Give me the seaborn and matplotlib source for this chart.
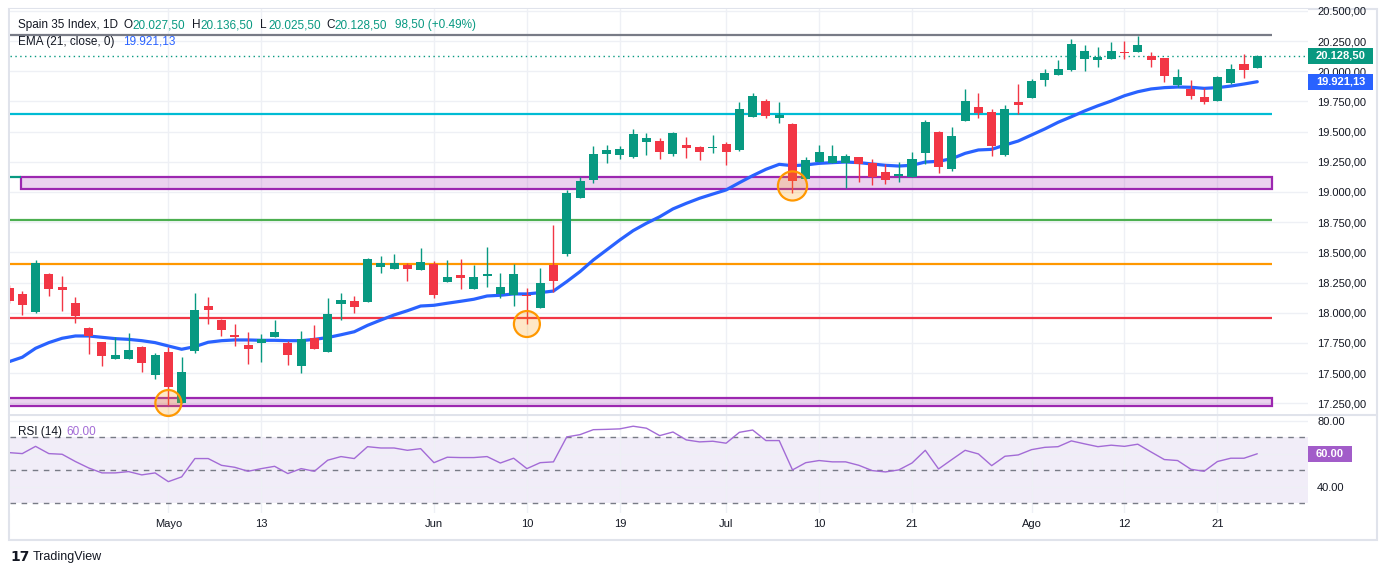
import numpy as np
import pandas as pd
import seaborn as sns
import matplotlib.pyplot as plt
from matplotlib.patches import Rectangle
from matplotlib.lines import Line2D
from matplotlib.transforms import blended_transform_factory

# daily bars, 15 Apr - 26 Aug (1 May closed)
opens = [18203, 18156, 18009, 18321, 18214, 18084, 17874, 17758, 17620, 17620,
         17717, 17487, 17676, 17256, 17686, 18056, 17940, 17814, 17733, 17753,
         17802, 17753, 17562, 17791, 17678, 18073, 18098, 18092, 18383, 18366,
         18395, 18354, 18404, 18258, 18313, 18200, 18307, 18158, 18150, 18150,
         18042, 18395, 18487, 18953, 19102, 19317, 19309, 19292, 19414, 19422,
         19317, 19389, 19372, 19367, 19400, 19348, 19621, 19753, 19615, 19565,
         19110, 19251, 19240, 19240, 19290, 19240, 19163, 19133, 19127, 19325,
         19497, 19188, 19590, 19704, 19660, 19309, 19745, 19781, 19930, 19969,
         20012, 20103, 20095, 20103, 20162, 20162, 20126, 20109, 19886, 19853,
         19786, 19756, 19902, 20060, 20027.5]
highs = [18230, 18180, 18437, 18332, 18305, 18131, 17885, 17760, 17797, 17833,
         17725, 17665, 17714, 17632, 18167, 18133, 17949, 17907, 17841, 17825,
         17940, 17769, 17849, 17899, 18123, 18164, 18142, 18456, 18470, 18487,
         18412, 18539, 18429, 18437, 18445, 18395, 18545, 18329, 18404, 18208,
         18371, 18724, 19017, 19122, 19381, 19389, 19381, 19522, 19488, 19447,
         19497, 19455, 19383, 19472, 19411, 19745, 19817, 19770, 19745, 19574,
         19292, 19389, 19389, 19315, 19292, 19273, 19229, 19248, 19331, 19596,
         19508, 19538, 19853, 19820, 19687, 19720, 19894, 19935, 20021, 20093,
         20267, 20217, 20200, 20242, 20250, 20294, 20159, 20111, 20018, 19927,
         19861, 19960, 20060, 20142, 20136.5]
lows = [18080, 17982, 17996, 18141, 18018, 17918, 17659, 17560, 17615, 17615,
        17507, 17455, 17234, 17250, 17670, 17907, 17808, 17725, 17576, 17595,
        17800, 17570, 17504, 17698, 17675, 17940, 18001, 18088, 18332, 18364,
        18266, 18352, 18125, 18256, 18200, 18198, 18216, 18125, 18059, 17910,
        18040, 18175, 18473, 18950, 19077, 19243, 19276, 19284, 19309, 19276,
        19298, 19284, 19265, 19323, 19224, 19340, 19619, 19615, 19574, 18989,
        19108, 19249, 19238, 19033, 19085, 19061, 19069, 19080, 19125, 19229,
        19160, 19177, 19588, 19615, 19300, 19300, 19648, 19779, 19880, 19965,
        20004, 20004, 20035, 20100, 20103, 20160, 20035, 19913, 19869, 19772,
        19731, 19754, 19894, 19946, 20025.5]
closes = [18100, 18065, 18410, 18200, 18191, 17976, 17810, 17642, 17650, 17692,
          17584, 17651, 17388, 17510, 18023, 18023, 17858, 17800, 17700, 17783,
          17841, 17653, 17783, 17703, 17990, 18106, 18051, 18445, 18412, 18412,
          18366, 18420, 18150, 18296, 18291, 18296, 18321, 18214, 18321, 18142,
          18247, 18266, 18992, 19091, 19315, 19348, 19356, 19480, 19447, 19334,
          19488, 19367, 19334, 19372, 19334, 19687, 19797, 19632, 19640, 19093,
          19265, 19331, 19295, 19295, 19234, 19124, 19102, 19149, 19273, 19580,
          19210, 19464, 19753, 19656, 19383, 19687, 19723, 19919, 19985, 20018,
          20225, 20167, 20117, 20167, 20153, 20217, 20095, 19963, 19952, 19797,
          19748, 19952, 20018, 20012, 20128.5]
ema21 = [17595, 17632, 17706, 17753, 17789, 17808, 17808, 17797, 17786, 17780,
         17769, 17753, 17725, 17698, 17720, 17756, 17769, 17775, 17775, 17772,
         17772, 17769, 17769, 17780, 17795, 17818, 17843, 17896, 17940, 17982,
         18017, 18056, 18062, 18079, 18095, 18112, 18139, 18145, 18156, 18156,
         18167, 18180, 18258, 18341, 18437, 18520, 18603, 18680, 18741, 18795,
         18860, 18906, 18948, 18983, 19017, 19077, 19135, 19188, 19229, 19218,
         19224, 19237, 19243, 19248, 19243, 19232, 19221, 19215, 19221, 19248,
         19254, 19276, 19320, 19348, 19353, 19389, 19422, 19472, 19522, 19577,
         19623, 19671, 19714, 19753, 19797, 19830, 19853, 19864, 19869, 19867,
         19858, 19864, 19877, 19894, 19913]
rsi14 = [60.7, 60.1, 64.5, 60.1, 59.7, 55.3, 51.4, 48.4, 48.4, 49.2,
         47.2, 48.4, 43.1, 46.0, 57.1, 57.1, 53.0, 51.8, 49.4, 51.0,
         52.4, 48.0, 51.0, 49.4, 56.1, 58.3, 57.1, 64.3, 63.5, 63.5,
         62.1, 63.1, 54.6, 57.9, 57.7, 57.7, 58.3, 54.4, 57.3, 51.0,
         54.6, 55.1, 70.2, 71.6, 74.6, 74.8, 75.1, 76.7, 75.5, 71.0,
         73.2, 68.4, 67.2, 67.6, 66.4, 73.0, 74.4, 68.0, 68.0, 50.2,
         54.6, 55.9, 55.1, 55.1, 53.0, 49.8, 49.0, 50.2, 54.4, 62.1,
         50.8, 56.5, 62.1, 59.9, 52.8, 58.5, 59.3, 62.5, 63.9, 64.3,
         67.8, 66.0, 64.3, 65.2, 64.5, 65.8, 61.1, 56.5, 55.9, 50.6,
         49.4, 55.3, 57.3, 57.3, 60.0]

# drawn levels / zones / highlighted lows
level_prices = [20300, 19648, 18768, 18404, 17960]
level_colors = ['#787B86', '#00BCD4', '#4CAF50', '#FF9800', '#F23645']
zone_upper = (19025, 19127)
zone_lower = (17231, 17297)
circle_bar = [59, 39, 12]
circle_price = [19050, 17907, 17253]

tick_days = ['2026-05-04', '2026-05-13', '2026-06-01', '2026-06-10', '2026-06-19',
             '2026-07-01', '2026-07-10', '2026-07-21', '2026-08-03', '2026-08-12',
             '2026-08-21']
tick_names = ['Mayo', '13', 'Jun', '10', '19', 'Jul', '10', '21', 'Ago', '12', '21']

GREEN = '#089981'
RED = '#F23645'
BLUE = '#2962FF'
PURPLE = '#9C27B0'
RSI_COL = '#A36BD6'
TXT = '#131722'
GRID = '#EEF0F5'

dates = pd.bdate_range('2026-04-15', '2026-08-26')
dates = dates[dates != pd.Timestamp('2026-05-01')]
x = np.arange(len(dates))
tick_pos = dates.get_indexer(pd.to_datetime(tick_days))

o = np.array(opens); h = np.array(highs); l = np.array(lows); c = np.array(closes)

sns.set_theme(style='white')
plt.rcParams['font.family'] = ['Liberation Sans', 'DejaVu Sans']

W, H = 1388, 575
fig = plt.figure(figsize=(W / 100, H / 100), dpi=100, facecolor='white')
ax = fig.add_axes([10 / W, 1 - 414 / H, 1298 / W, 405 / H])
ax_rsi = fig.add_axes([10 / W, 1 - 513 / H, 1298 / W, 98 / H])
ax.set_zorder(2)
ax_rsi.set_zorder(1)

xlim = (0.075, 97.82)

# ---- price pane ----
ax.set_xlim(xlim)
ax.set_ylim(17162, 20515)
ax.set_yticks(np.arange(17250, 20501, 250))
ax.yaxis.set_major_formatter(lambda v, p: f'{v:,.2f}'.replace(',', 'X').replace('.', ',').replace('X', '.'))
ax.yaxis.tick_right()
ax.tick_params(axis='y', length=0, pad=6.5, labelsize=8, labelcolor=TXT)
ax.set_xticks(tick_pos)
ax.tick_params(axis='x', length=0, labelbottom=False)
ax.grid(True, color=GRID, lw=1)
ax.set_axisbelow(True)
for s in ax.spines.values():
    s.set_visible(False)

line_end = 95.1
for lv, col in zip(level_prices, level_colors):
    ax.hlines(lv, -1, line_end, color=col, lw=1.6, zorder=1)
ax.add_patch(Rectangle((0.9, zone_upper[0]), line_end - 0.9, zone_upper[1] - zone_upper[0],
                       fc=(0.612, 0.153, 0.69, 0.2), ec=PURPLE, lw=1.6, zorder=1))
ax.add_patch(Rectangle((-1, zone_lower[0]), line_end + 1, zone_lower[1] - zone_lower[0],
                       fc=(0.612, 0.153, 0.69, 0.2), ec=PURPLE, lw=1.6, zorder=1))
ax.hlines(zone_upper[1], -1, 0.9, color=GREEN, lw=1.6, zorder=1)

ax.axhline(c[-1], color=GREEN, ls=(0, (1, 2.5)), lw=1, zorder=1)

sns.lineplot(x=x, y=ema21, ax=ax, color=BLUE, lw=2.3, zorder=2, legend=False)

cols = np.where(c >= o, GREEN, RED)
ax.vlines(x, l, h, color=cols, lw=1, zorder=3)
ax.bar(x, np.maximum(np.abs(c - o), 8), bottom=np.minimum(o, c), width=0.68,
       color=cols, lw=0, zorder=4)

ax.scatter(circle_bar, circle_price, s=[440, 350, 350], facecolor=(1, 0.6, 0, 0.22),
           edgecolor='#FF9800', lw=1.6, zorder=6, clip_on=False)

ax.set_xlabel('')
ax.set_ylabel('')

# value tags on price scale
trans = blended_transform_factory(ax.transAxes, ax.transData)
ppx = 405 / (20515 - 17162)
for val, col, txt in [(c[-1], GREEN, '20.128,50'), (ema21[-1], BLUE, '19.921,13')]:
    ax.add_patch(Rectangle((1.0, val - 8 / ppx), 65 / 1298, 16 / ppx, transform=trans,
                           fc=col, ec='none', clip_on=False, zorder=10))
    ax.text(1.0 + 8 / 1298, val, txt, transform=trans, color='white', fontsize=8,
            fontweight='bold', va='center', ha='left', clip_on=False, zorder=11)

# ---- RSI pane ----
ax_rsi.set_xlim(xlim)
ax_rsi.set_ylim(24.1, 83.5)
ax_rsi.axhspan(30, 70, color='#7E57C2', alpha=0.1, lw=0, zorder=0)
for lv in [70, 50, 30]:
    ax_rsi.axhline(lv, color='#787B86', lw=1, ls=(0, (4, 4)), zorder=1)
sns.lineplot(x=x, y=rsi14, ax=ax_rsi, color=RSI_COL, lw=1, zorder=3, legend=False)
ax_rsi.set_yticks([40, 60, 80])
ax_rsi.yaxis.set_major_formatter(lambda v, p: f'{v:.2f}')
ax_rsi.yaxis.tick_right()
ax_rsi.tick_params(axis='y', length=0, pad=6.5, labelsize=8, labelcolor=TXT)
ax_rsi.set_xticks(tick_pos)
ax_rsi.set_xticklabels(tick_names)
ax_rsi.tick_params(axis='x', length=0, pad=4, labelsize=8, labelcolor=TXT)
ax_rsi.grid(True, color=GRID, lw=1)
ax_rsi.set_axisbelow(True)
for s in ax_rsi.spines.values():
    s.set_visible(False)
ax_rsi.set_xlabel('')
ax_rsi.set_ylabel('')

trans_r = blended_transform_factory(ax_rsi.transAxes, ax_rsi.transData)
rpx = 98 / (83.5 - 24.1)
ax_rsi.add_patch(Rectangle((1.0, rsi14[-1] - 8 / rpx), 44 / 1298, 16 / rpx, transform=trans_r,
                           fc='#A25CC9', ec='none', clip_on=False, zorder=10))
ax_rsi.text(1.0 + 8 / 1298, rsi14[-1], '60.00', transform=trans_r, color='white', fontsize=8,
            fontweight='bold', va='center', ha='left', clip_on=False, zorder=11)

# ---- legend texts ----
def ftext(px, py, s, **kw):
    fig.text(px / W, 1 - py / H, s, va='center', ha='left', fontsize=8.5, **kw)

ftext(18, 25, 'Spain 35 Index, 1D', color=TXT)
for px, lab, val in [(124, 'O', '20.027,50'), (192, 'H', '20.136,50'),
                     (260, 'L', '20.025,50'), (326, 'C', '20.128,50')]:
    ftext(px, 25, lab, color=TXT)
    ftext(px + 8, 25, val, color=GREEN)
ftext(395, 25, '98,50 (+0.49%)', color=GREEN)
ftext(18, 42, 'EMA (21, close, 0)', color=TXT)
ftext(123, 42, '19.921,13', color=BLUE)
ftext(18, 432, 'RSI (14)', color=TXT)
ftext(66, 432, '60.00', color=RSI_COL)

# frame, pane separator, watermark
fig.add_artist(Rectangle((9 / W, 1 - 540 / H), 1368 / W, 531 / H, transform=fig.transFigure,
                         fill=False, ec='#E0E3EB', lw=1.5))
fig.add_artist(Line2D([9 / W, 1377 / W], [1 - 415 / H, 1 - 415 / H], color='#E0E3EB', lw=1.5))
fig.text(10 / W, 1 - 557 / H, '17', fontsize=10, fontweight='bold', color=TXT, va='center',
         family=['DejaVu Sans'])
fig.text(33 / W, 1 - 557 / H, 'TradingView', fontsize=9, color=TXT, va='center')

fig.savefig('out.png', dpi=100, facecolor='white')
